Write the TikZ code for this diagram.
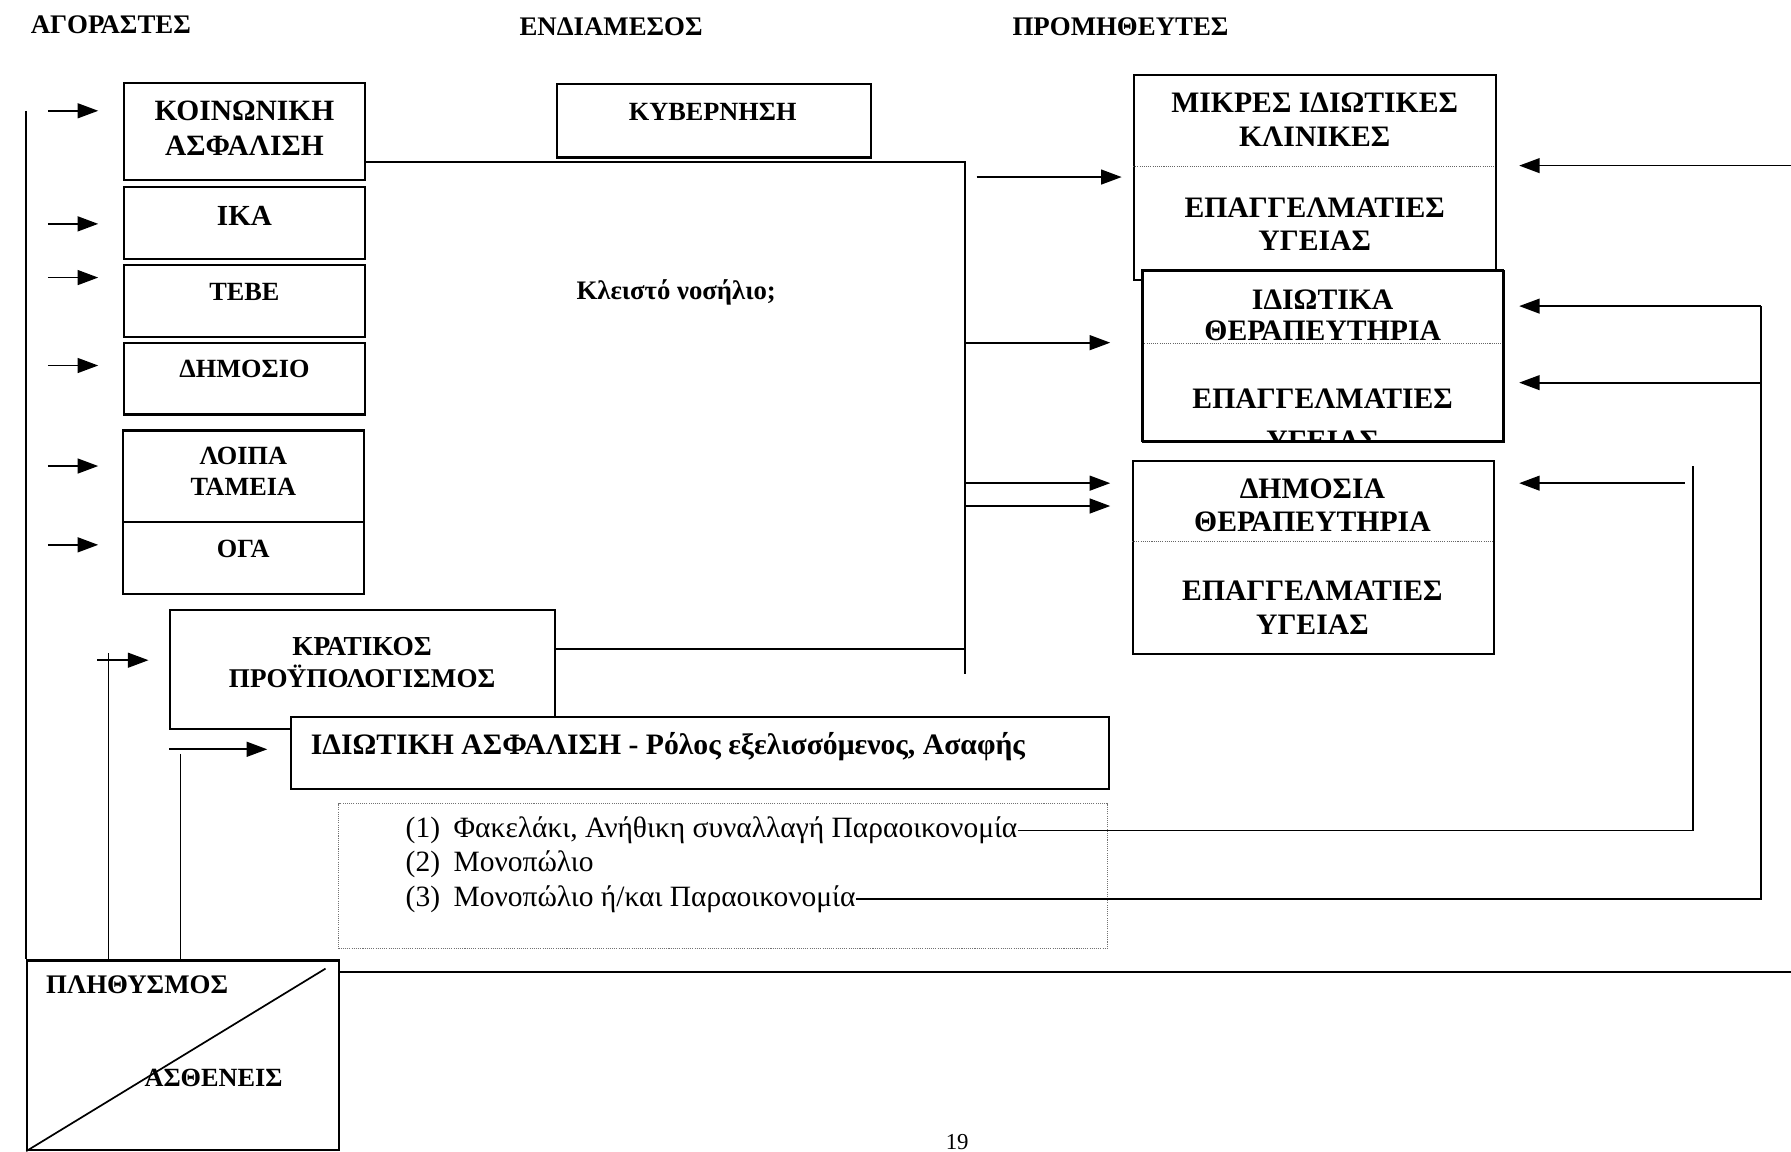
\documentclass[tikz,border=0pt]{standalone}
\usepackage{fontspec}
\setmainfont{Liberation Serif}
\usetikzlibrary{arrows.meta}
\begin{document}
\begin{tikzpicture}[x=1pt,y=-1pt,
  box/.style={draw, line width=1.8pt, fill=white, inner sep=0pt, anchor=north west},
  lb/.style={font=\bfseries\fontsize{23}{26}\selectfont, inner sep=0pt},
  lbb/.style={font=\bfseries\fontsize{25.8}{28}\selectfont, inner sep=0pt},
  rb/.style={font=\bfseries\fontsize{26}{29}\selectfont, inner sep=0pt},
  hd/.style={font=\bfseries\fontsize{23.5}{26}\selectfont, inner sep=0pt},
  lt/.style={font=\fontsize{25.8}{28}\selectfont, inner sep=0pt, anchor=west},
  ln/.style={line width=1.5pt},
  arr/.style={line width=1.5pt, -{Triangle[length=18pt,width=13pt]}},
  dotl/.style={densely dotted, line width=0.9pt, draw=black!60},
]
\useasboundingbox[fill=white] (0,0) rectangle (1568,1008);

% headers
\node[hd] (hA) at (97,22) {ΑΓΟΡΑΣΤΕΣ};
\node[hd] (hE) at (535,23) {ΕΝΔΙΑΜΕΣΟΣ};
\node[hd] (hP) at (981,23) {ΠΡΟΜΗΘΕΥΤΕΣ};

% left column of buyers
\node[box, minimum width=211, minimum height=85] (koin) at (108,72) {};
\node[lbb] (koin1) at (214,97) {ΚΟΙΝΩΝΙΚΗ};
\node[lbb] (koin2) at (214,128) {ΑΣΦΑΛΙΣΗ};
\node[box, minimum width=211, minimum height=63] (ika) at (108,163) {};
\node[lb, font=\bfseries\fontsize{25.5}{28}\selectfont] (ikat) at (214,189) {ΙΚΑ};
\node[box, minimum width=211, minimum height=63] (tebe) at (108,231) {};
\node[lb] (tebet) at (214,256) {ΤΕΒΕ};
\node[box, minimum width=211, minimum height=63] (dim) at (108,299) {};
\node[lb] (dimt) at (214,323) {ΔΗΜΟΣΙΟ};
\node[box, minimum width=211, minimum height=80] (loipa) at (107,376) {};
\node[lb] (loipa1) at (213,399) {ΛΟΙΠΑ};
\node[lb] (loipa2) at (213,426) {ΤΑΜΕΙΑ};
\node[box, minimum width=211, minimum height=63] (oga) at (107,456) {};
\node[lb] (ogat) at (213,481) {ΟΓΑ};

% short arrows into the funds
\foreach \yy/\nm in {97/s1,196/s2,243/s3,320/s4,408/s5,477/s6}{
  \coordinate (\nm) at (42,\yy);
  \draw[arr] (\nm) -- ++(44,0);
}

% government
\node[box, minimum width=275, minimum height=64] (kyv) at (487,73) {};
\node[lb] (kyvt) at (624,98) {ΚΥΒΕΡΝΗΣΗ};

% state budget and private insurance
\node[box, minimum width=337, minimum height=104] (krat) at (148,533) {};
\node[lb, font=\bfseries\fontsize{24}{27}\selectfont] (krat1) at (317,566) {ΚΡΑΤΙΚΟΣ};
\node[lb, font=\bfseries\fontsize{23.7}{27}\selectfont] (krat2) at (317,592) {ΠΡΟΫΠΟΛΟΓΙΣΜΟΣ};
\node[box, minimum width=716, minimum height=63] (idiot) at (254,627) {};
\node[rb, anchor=west] (idiott) at (272,654) {ΙΔΙΩΤΙΚΗ ΑΣΦΑΛΙΣΗ - Ρόλος εξελισσόμενος, Ασαφής};

% collecting bracket
\coordinate (br) at (845,142);
\coordinate (brb) at (845,590);
\coordinate (kr) at (485,568);
\draw[ln] (319,142) -- (br) -- (brb);
\draw[ln] (kr) -- (845,568);
\node[font=\bfseries\fontsize{23.4}{26}\selectfont, inner sep=0pt] (kleisto) at (592,256) {Κλειστό νοσήλιο;};

% providers
\node[box, minimum width=317, minimum height=179] (b1) at (992,65) {};
\draw[dotl] (992,146) -- (1309,146);
\node[rb] (b1a) at (1151,90) {ΜΙΚΡΕΣ ΙΔΙΩΤΙΚΕΣ};
\node[rb] (b1b) at (1151,120) {ΚΛΙΝΙΚΕΣ};
\node[rb] (b1c) at (1151,182) {ΕΠΑΓΓΕΛΜΑΤΙΕΣ};
\node[rb] (b1d) at (1151,211) {ΥΓΕΙΑΣ};

\node[box, minimum width=316, minimum height=150] (b2) at (1000,236) {};
\draw[dotl] (1000,301) -- (1316,301);
\node[rb] (b2a) at (1158,262) {ΙΔΙΩΤΙΚΑ};
\node[rb] (b2b) at (1158,290) {ΘΕΡΑΠΕΥΤΗΡΙΑ};
\node[rb] (b2c) at (1158,349) {ΕΠΑΓΓΕΛΜΑΤΙΕΣ};
\begin{scope}
  \clip (1000,236) rectangle (1316,386);
  \node[rb] (b2d) at (1158,386) {ΥΓΕΙΑΣ};
\end{scope}
\draw[line width=1.8pt] (1000,236) rectangle (1316,386);

\node[box, minimum width=316, minimum height=169] (b3) at (991,403) {};
\draw[dotl] (991,474) -- (1307,474);
\node[rb] (b3a) at (1149,428) {ΔΗΜΟΣΙΑ};
\node[rb] (b3b) at (1149,457) {ΘΕΡΑΠΕΥΤΗΡΙΑ};
\node[rb] (b3c) at (1149,517) {ΕΠΑΓΓΕΛΜΑΤΙΕΣ};
\node[rb] (b3d) at (1149,547) {ΥΓΕΙΑΣ};

% arrows from the bracket to the providers
\coordinate (m1) at (855,155);
\draw[arr] (m1) -- (982,155);
\draw[arr] (845,300) -- (972,300);
\draw[arr] (845,423) -- (972,423);
\draw[arr] (845,443) -- (972,443);

% dotted box with the list
\node[draw, densely dotted, line width=0.9pt, draw=black!55, inner sep=0pt, anchor=north west,
      minimum width=673, minimum height=127] (dbox) at (296,703) {};
\node[lt] (l1) at (355,727) {\makebox[42pt][l]{(1)}Φακελάκι, Ανήθικη συναλλαγή Παραοικονομία};
\node[lt] (l2) at (355,757) {\makebox[42pt][l]{(2)}Μονοπώλιο};
\node[lt] (l3) at (355,787) {\makebox[42pt][l]{(3)}Μονοπώλιο ή/και Παραοικονομία};

% feedback lines on the right
\coordinate (rtop) at (1568,145);
\draw[arr] (rtop) -- (1330,145);
\coordinate (r1) at (1482,408);
\draw[ln] (l1.east) -| (r1);
\coordinate (r1a) at (1475,423);
\draw[arr] (r1a) -- (1330,423);
\coordinate (r3) at (1542,268);
\coordinate (r3b) at (1542,335);
\draw[ln] (l3.east) -| (r3);
\draw[arr] (r3) -- (1330,268);
\draw[arr] (r3b) -- (1330,335);

% population
\node[draw, line width=1.8pt, inner sep=0pt, anchor=north west,
      minimum width=273, minimum height=166] (pop) at (23,840) {};
\draw[line width=1.5pt] (pop.south west) -- (285,848);
\node[lb, font=\bfseries\fontsize{23.5}{26}\selectfont] (popt) at (120,862) {ΠΛΗΘΥΣΜΟΣ};
\node[lb] (asth) at (187,944) {ΑΣΘΕΝΕΙΣ};
\draw[ln] (23,97) -- (pop.north west);
\coordinate (hl) at (296,851);
\draw[ln] (hl) -- (1568,851);

% population to state budget and private insurance
\coordinate (p1) at (85,578);
\draw[arr] (p1) -- ++(45,0);
\draw[ln] (95,572) -- (95,840);
\coordinate (p2) at (148,656);
\draw[arr] (p2) -- ++(86,0);
\draw[ln] (158,660) -- (158,840);

\node[font=\fontsize{20}{22}\selectfont, inner sep=0pt] (pg) at (838,1000) {19};
\end{tikzpicture}
\end{document}
